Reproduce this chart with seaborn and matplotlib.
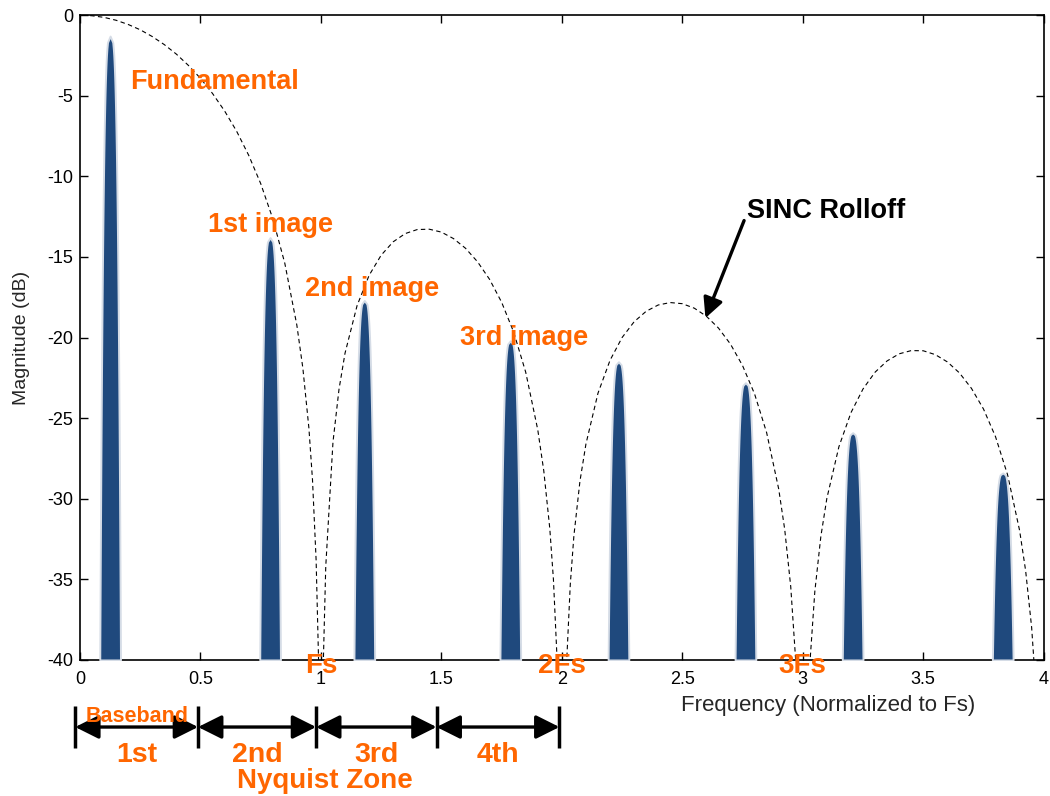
import numpy as np
import matplotlib
matplotlib.use('Agg')
import matplotlib.pyplot as plt
import matplotlib.transforms as mtransforms
import seaborn as sns

# data
# sinc rolloff curve (dB), sampled lobe by lobe
sinc_freq = [0.01, 0.05, 0.1, 0.15, 0.2, 0.25, 0.3, 0.35, 0.4, 0.45, 0.5,
             0.55, 0.6, 0.65, 0.7, 0.75, 0.8, 0.85, 0.9, 0.925, 0.95, 0.965,
             0.98, 0.99, 1.0,
             1.01, 1.02, 1.05, 1.075, 1.1, 1.15, 1.2, 1.25, 1.3, 1.35, 1.4,
             1.45, 1.5, 1.55, 1.6, 1.65, 1.7, 1.75, 1.8, 1.85, 1.9, 1.925,
             1.95, 1.965, 1.98, 1.99, 2.0,
             2.01, 2.02, 2.035, 2.05, 2.075, 2.1, 2.15, 2.2, 2.25, 2.3, 2.35,
             2.4, 2.45, 2.5, 2.55, 2.6, 2.65, 2.7, 2.75, 2.8, 2.85, 2.9,
             2.925, 2.95, 2.97, 2.98, 3.0,
             3.02, 3.03, 3.05, 3.075, 3.1, 3.15, 3.2, 3.25, 3.3, 3.35, 3.4,
             3.45, 3.5, 3.55, 3.6, 3.65, 3.7, 3.75, 3.8, 3.85, 3.9, 3.925,
             3.95, 3.97]
sinc_db = [0.0, -0.04, -0.14, -0.32, -0.58, -0.91, -1.33, -1.83, -2.42,
           -3.12, -3.92, -4.86, -5.94, -7.20, -8.69, -10.45, -12.62, -15.39,
           -19.23, -21.90, -25.61, -28.83, -33.8, -39.9, -60.0,
           -40.1, -34.2, -26.48, -23.21, -20.97, -18.02, -16.14, -14.89,
           -14.06, -13.55, -13.30, -13.28, -13.46, -13.86, -14.46, -15.30,
           -16.39, -17.81, -19.66, -22.15, -25.72, -28.27, -31.86, -35.0,
           -39.9, -46.0, -60.0,
           -46.0, -40.1, -35.31, -32.29, -28.92, -26.6, -23.45, -21.41,
           -20.0, -19.02, -18.37, -17.98, -17.83, -17.90, -18.18, -18.68,
           -19.41, -20.41, -21.74, -23.50, -25.90, -29.39, -31.90, -35.45,
           -39.9, -43.5, -60.0,
           -43.6, -40.1, -35.75, -32.34, -29.97, -26.77, -24.66, -23.19,
           -22.15, -21.45, -21.01, -20.81, -20.82, -21.06, -21.51, -22.19,
           -23.15, -24.43, -26.15, -28.51, -31.97, -34.46, -37.99, -42.4]

# spectral lines: fundamental and images
tone_freq = [0.125, 0.789, 1.180, 1.786, 2.235, 2.762, 3.207, 3.830]
tone_db = [-1.3, -13.8, -17.7, -20.2, -21.5, -22.8, -25.9, -28.4]

tone_labels = ['Fundamental', '1st image', '2nd image', '3rd image']
tone_label_x = [0.208, 0.532, 0.935, 1.578]
tone_label_y = [-4.15, -13.0, -17.0, -20.0]

fs_labels = ['Fs', '2Fs', '3Fs']
fs_x = [1.0, 2.0, 3.0]

zone_edges = [-0.02, 0.49, 0.98, 1.48, 1.99]
zone_labels = ['1st', '2nd', '3rd', '4th']

xticks = [0, 0.5, 1, 1.5, 2, 2.5, 3, 3.5, 4]
xtick_labels = ['0', '0.5', '1', '1.5', '2', '2.5', '3', '3.5', '4']
yticks = [-40, -35, -30, -25, -20, -15, -10, -5, 0]

orange = '#ff6600'
navy = '#1f497d'

sns.set_theme(style='ticks')
plt.rcParams['font.family'] = ['Liberation Sans', 'DejaVu Sans']
plt.rcParams['axes.unicode_minus'] = False

fig = plt.figure(figsize=(10.5, 7.96), dpi=100)
ax = fig.add_axes([0.0762, 0.1709, 0.9178, 0.8101])

# dashed sinc envelope
sns.lineplot(x=sinc_freq, y=sinc_db, ax=ax, color='black', lw=0.8,
             linestyle=(0, (4, 3)), sort=False, estimator=None)

# spikes: narrow rounded peaks standing on the -40 dB floor
half_w = 0.043
for f, p in zip(tone_freq, tone_db):
    yy = np.linspace(-40, p, 100)
    w = half_w * ((p - yy) / (p + 40)) ** 0.3
    ax.fill_betweenx(yy, f - w, f + w, color=navy, ec='#d5dce6', lw=1.4,
                     zorder=3)

for lab, x, y in zip(tone_labels, tone_label_x, tone_label_y):
    ax.text(x, y, lab, color=orange, fontsize=19.5, fontweight='bold',
            ha='left', va='center', zorder=5)

ax.annotate('SINC Rolloff', xy=(2.596, -18.79), xytext=(2.77, -12.15),
            fontsize=19.5, fontweight='bold', color='black',
            ha='left', va='center',
            arrowprops=dict(arrowstyle='-|>', color='black', lw=2.4,
                            mutation_scale=30, shrinkA=0, shrinkB=0,
                            relpos=(0, 0.45)))

ax.set_xlim(0, 4)
ax.set_ylim(-40, 0)
ax.set_xticks(xticks)
ax.set_xticklabels(xtick_labels)
ax.set_yticks(yticks)
ax.tick_params(direction='in', top=True, right=True, length=6, width=1,
               labelsize=13, pad=5, colors='black')
ax.tick_params(axis='x', pad=8)
for s in ax.spines.values():
    s.set_visible(True)
    s.set_color('black')
    s.set_linewidth(1.2)

ax.set_ylabel('Magnitude (dB)', fontsize=14)
ax.yaxis.set_label_coords(-0.052, 0.5)
ax.text(0.776, -0.07, 'Frequency (Normalized to Fs)', transform=ax.transAxes,
        ha='center', va='center', fontsize=16)

# multiples of Fs, on the axis line
for lab, x in zip(fs_labels, fs_x):
    ax.text(x, -40.4, lab, color=orange, fontsize=20, fontweight='bold',
            ha='center', va='center', clip_on=False, zorder=6)

# Nyquist zones under the axes
trans = mtransforms.blended_transform_factory(ax.transData, ax.transAxes)
for x in zone_edges:
    ax.plot([x, x], [-0.0713, -0.1364], transform=trans, color='black',
            lw=2.5, clip_on=False, solid_capstyle='butt')
for i, lab in enumerate(zone_labels):
    a, b = zone_edges[i], zone_edges[i + 1]
    ax.annotate('', xy=(b, -0.104), xytext=(a, -0.104),
                xycoords=trans, textcoords=trans,
                arrowprops=dict(arrowstyle='<|-|>', color='black', lw=2.4,
                                mutation_scale=36, shrinkA=0, shrinkB=0))
    ax.text((a + b) / 2, -0.148, lab, transform=trans, color=orange,
            fontsize=20.5, fontweight='bold', ha='center', va='center')
ax.text((zone_edges[0] + zone_edges[1]) / 2, -0.088, 'Baseband',
        transform=trans, color=orange, fontsize=15.5, fontweight='bold',
        ha='center', va='center')
ax.text(1.018, -0.188, 'Nyquist Zone', transform=trans, color=orange,
        fontsize=20, fontweight='bold', ha='center', va='center')

fig.savefig('out.png', dpi=100)
